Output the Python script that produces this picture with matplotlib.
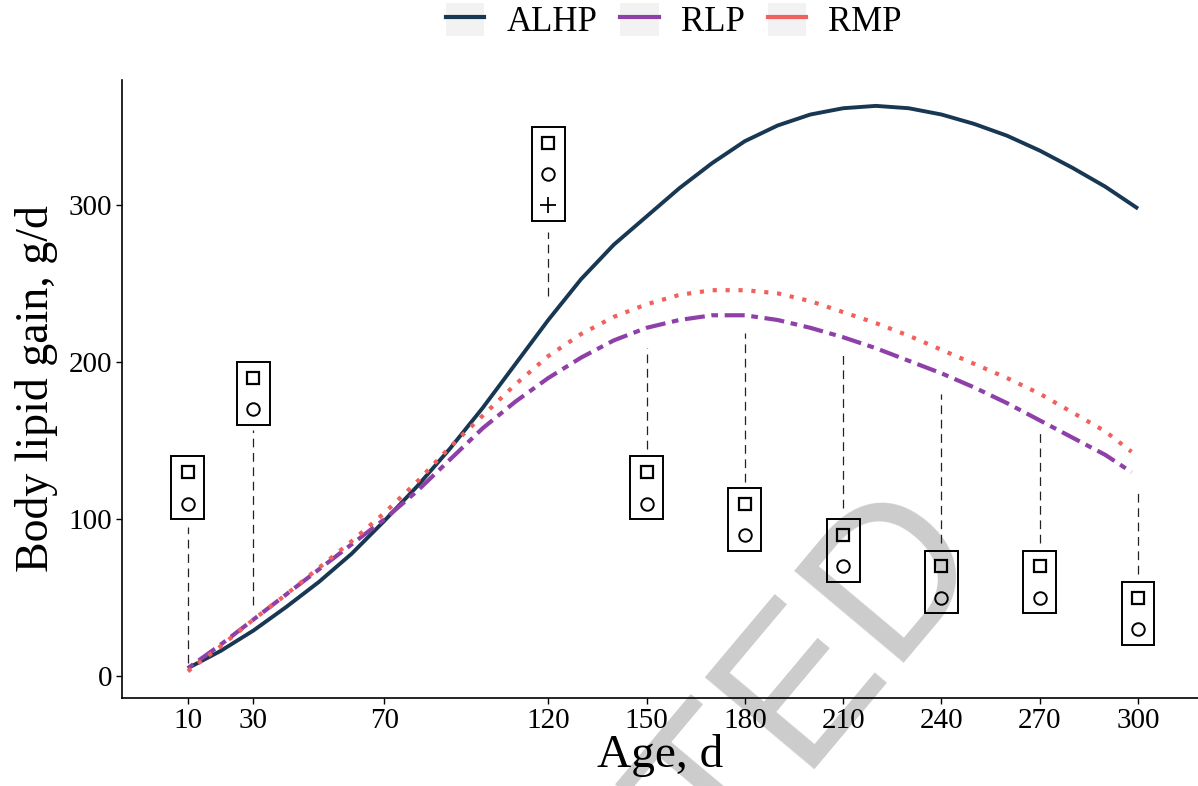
import matplotlib
matplotlib.use('Agg')
import matplotlib.pyplot as plt
from matplotlib.lines import Line2D
from matplotlib.patches import Patch, Rectangle

plt.rcParams['font.family'] = 'Liberation Serif'

# series (g/d)
series = ['ALHP', 'RLP', 'RMP']
colors = ['#173753', '#8E3FA8', '#F0605D']

age_alhp = [10, 20, 30, 40, 50, 60, 70, 80, 90, 100, 110, 120, 130, 140, 150, 160, 170, 180,
            190, 200, 210, 220, 230, 240, 250, 260, 270, 280, 290, 300]
alhp = [5, 16, 29, 44, 60, 78, 99, 121, 145, 171, 199, 227, 253, 275, 293, 311, 327, 341,
        351, 358, 362, 363.5, 362, 358, 352, 344.5, 335, 324, 312, 298]

age_rlp = [10, 20, 30, 40, 50, 60, 70, 80, 90, 100, 110, 120, 130, 140, 150, 160, 170, 180,
           190, 200, 210, 220, 230, 240, 250, 260, 270, 280, 290, 298]
rlp = [5, 20, 36, 52, 68, 84, 100, 118, 138, 158, 175, 190, 203, 214, 222, 227, 230, 230,
       227, 222, 216, 209, 201, 193, 184, 174, 163, 152, 141, 130]

age_rmp = [10, 20, 30, 40, 50, 60, 70, 80, 90, 100, 110, 120, 130, 140, 150, 160, 170, 180,
           190, 200, 210, 220, 230, 240, 250, 260, 270, 280, 290, 298]
rmp = [3, 19, 36, 52, 69, 86, 104, 124, 146, 166, 186, 204, 218, 229, 237, 243, 246, 246,
       244, 239, 232, 225, 217, 208, 199, 190, 180, 168, 156, 143]

# significance boxes
box_x = [10, 30, 120, 150, 180, 210, 240, 270, 300]
square_y = [130, 190, 340, 130, 110, 90, 70, 70, 50]
circle_y = [110, 170, 320, 110, 90, 70, 50, 50, 30]
plus_x = [120]
plus_y = [300]
seg_top = [95, 157, 283, 209, 219, 205, 180, 155, 120]
seg_bottom = [8, 45, 242, 145, 124, 107, 85, 85, 65]

xticks = [10, 30, 70, 120, 150, 180, 210, 240, 270, 300]
yticks = [0, 100, 200, 300]

fig = plt.figure(figsize=(11.98, 7.86), dpi=100)
ax = fig.add_axes([122 / 1198, 1 - 698 / 786, (1198 - 122) / 1198, (698 - 80) / 786])
ax.patch.set_alpha(0)

# watermark
fig.text(0.5225, -0.2646, 'ACCEPTED', rotation=50, rotation_mode='anchor', ha='center',
         va='baseline', fontsize=150, color='#CCCCCC', family='Liberation Sans', zorder=-1)

ax.plot(age_alhp, alhp, color=colors[0], lw=2.8, solid_capstyle='butt', zorder=3)
ax.plot(age_rlp, rlp, color=colors[1], lw=3.0, dashes=(1.6, 1.6, 4.8, 1.6),
        dash_capstyle='butt', zorder=4)
ax.plot(age_rmp, rmp, color=colors[2], lw=3.0, dashes=(1, 2.1), dash_capstyle='butt', zorder=5)

# dashed connectors and boxes
for x, lo, hi in zip(box_x, seg_bottom, seg_top):
    ax.plot([x, x], [lo, hi], color='#222222', lw=0.9, dashes=(7, 4.5), zorder=2)

for i, x in enumerate(box_x):
    lo = circle_y[i] - 10
    hi = square_y[i] + 10
    if x in plus_x:
        lo = plus_y[plus_x.index(x)] - 10
    ax.add_patch(Rectangle((x - 5, lo), 10, hi - lo, fill=False, edgecolor='black', lw=1.4, zorder=6))

ax.plot(box_x, square_y, ls='none', marker='s', ms=8, mfc='none', mec='black', mew=1.6, zorder=7)
ax.plot(box_x, circle_y, ls='none', marker='o', ms=9, mfc='none', mec='black', mew=1.4, zorder=7)
ax.plot(plus_x, plus_y, ls='none', marker='+', ms=12, mec='black', mew=1.3, zorder=7)

ax.set_xlim(-10.1, 318.3)
ax.set_ylim(-14, 380)
ax.set_xticks(xticks)
ax.set_yticks(yticks)
ax.spines['top'].set_visible(False)
ax.spines['right'].set_visible(False)
for s in ['left', 'bottom']:
    ax.spines[s].set_linewidth(1.2)
ax.tick_params(direction='out', length=4, width=1, labelsize=21, pad=3, colors='black')
ax.set_xlabel('Age, d', fontsize=34, labelpad=0)
ax.set_ylabel('Body lipid gain, g/d', fontsize=33, labelpad=8)

handles = [(Patch(facecolor='#F2F2F2', edgecolor='none'), Line2D([], [], color=c, lw=3))
           for c in colors]
fig.legend(handles, series, loc='center', bbox_to_anchor=(0.5626, 0.973), ncol=3,
           frameon=False, fontsize=25, handlelength=1.1, handleheight=1.07,
           handletextpad=0.65, columnspacing=0.65, borderaxespad=0, borderpad=0)

fig.savefig('out.png', dpi=100)
